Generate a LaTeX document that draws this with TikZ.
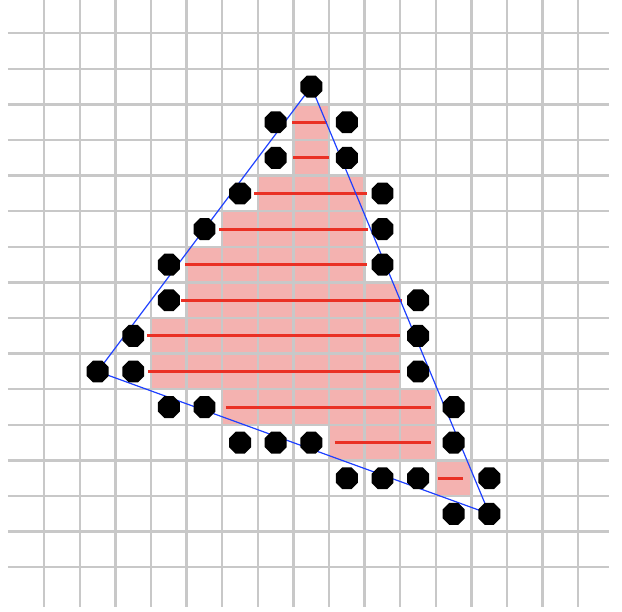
\documentclass[tikz,border=0pt]{standalone}
\usetikzlibrary{shapes.geometric}
\definecolor{gridgray}{RGB}{200,200,200}
\definecolor{pinkfill}{RGB}{244,178,176}
\definecolor{scanred}{RGB}{234,48,36}
\definecolor{edgeblue}{RGB}{30,64,255}
\begin{document}
\begin{tikzpicture}[x=26.7pt,y=-26.7pt,
  gridline/.style={draw=gridgray,line width=1.8pt},
  scanline/.style={draw=scanred,line width=2.25pt},
  edgeline/.style={draw=edgeblue,line width=0.9pt},
  dot/.style={regular polygon,regular polygon sides=8,fill=black,inner sep=0pt,minimum size=17.8pt}]
\useasboundingbox (-1.744,-1.435) rectangle (15.728,15.756);
% interior pixels
\foreach \r/\a/\b in {2/7/7,3/7/7,4/6/8,5/5/8,6/4/8,7/4/9,8/3/9,9/3/9,10/5/10,11/8/10,12/11/11}
  \fill[pinkfill] (\a-0.5,\r-0.5) rectangle (\b+0.5,\r+0.5);
% grid
\foreach \i in {0,...,15} {
  \draw[gridline] (\i-0.5,-1.435) -- (\i-0.5,15.615);
  \draw[gridline] (-1.52,\i-0.5) -- (15.36,\i-0.5);
}
% scanlines
\foreach \r/\a/\b in {2/6.46/7.44,3/6.49/7.50,4/5.39/8.56,5/4.41/8.59,6/3.45/8.56,7/3.34/9.55,8/2.38/9.49,9/2.41/9.49,10/4.60/10.36,11/7.66/10.36,12/10.56/11.26}
  \draw[scanline] (\a,\r) -- (\b,\r);
% triangle
\coordinate (vA) at (7,1);
\coordinate (vB) at (1,9);
\coordinate (vC) at (12,13);
\draw[edgeline] (vA) -- (vB) -- (vC) -- cycle;
% edge pixels
\node[dot] (A) at (vA) {};
\node[dot] (B) at (vB) {};
\node[dot] (C) at (vC) {};
\foreach \c/\r in {6/2,8/2,6/3,8/3,5/4,9/4,4/5,9/5,3/6,9/6,3/7,10/7,2/8,10/8,2/9,10/9,3/10,4/10,11/10,5/11,6/11,7/11,11/11,8/12,9/12,10/12,12/12,11/13}
  \node[dot] (p\c-\r) at (\c,\r) {};
\end{tikzpicture}
\end{document}
